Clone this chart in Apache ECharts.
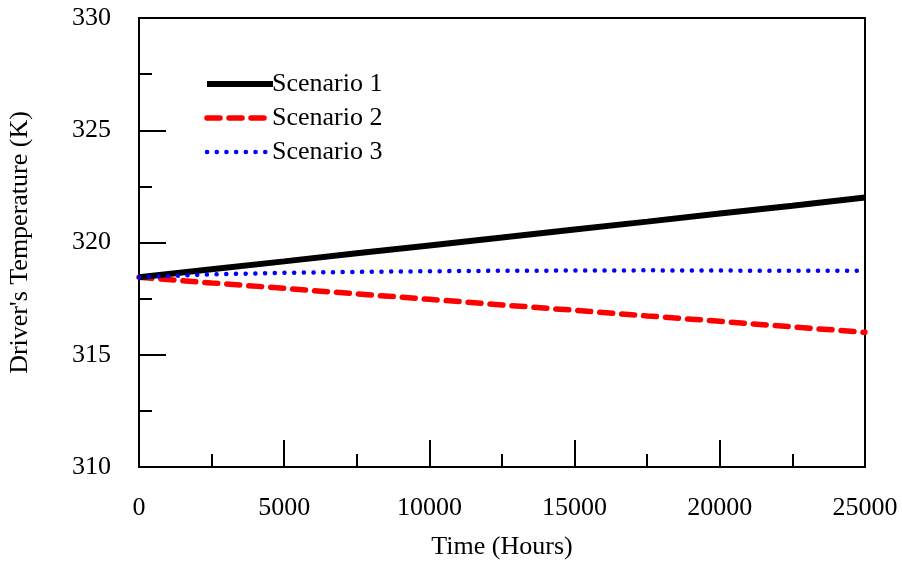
<!DOCTYPE html>
<html>
<head>
<meta charset="utf-8">
<script src="https://cdn.jsdelivr.net/npm/echarts@6/dist/echarts.min.js"></script>
<style>
html, body { margin: 0; padding: 0; background: #fff; }
#chart { width: 902px; height: 563px; }
</style>
</head>
<body>
<div id="chart"></div>
<script>
// time in hours
var hours = [0, 2500, 5000, 7500, 10000, 12500, 15000, 17500, 20000, 22500, 25000];
var scenario1 = [318.45, 318.81, 319.16, 319.52, 319.87, 320.22, 320.58, 320.93, 321.29, 321.64, 322.0];
var scenario2 = [318.45, 318.2, 317.96, 317.71, 317.47, 317.22, 316.98, 316.73, 316.49, 316.24, 316.0];
var scenario3 = [318.45, 318.58, 318.65, 318.69, 318.72, 318.74, 318.75, 318.76, 318.75, 318.74, 318.74];
var names = ['Scenario 1', 'Scenario 2', 'Scenario 3'];

var font = 'Liberation Serif';
var fs = 26;

var styles = [
    { color: '#000', width: 6, type: 'solid' },
    { color: '#ff0000', width: 5.5, type: [13, 9], cap: 'round' },
    { color: '#0000ff', width: 4.5, type: [0.1, 9.6], cap: 'round' }
];

function pairs(vals) {
    var res = [];
    for (var i = 0; i < hours.length; i++) {
        res.push([hours[i], vals[i]]);
    }
    return res;
}

var myChart = echarts.init(document.getElementById('chart'));

var axisCommon = {
    nameLocation: 'middle',
    nameMoveOverlap: false,
    nameTextStyle: { fontFamily: font, fontSize: fs, color: '#000' },
    axisLine: { lineStyle: { color: '#000', width: 2 } },
    axisTick: { inside: true, length: 27, lineStyle: { color: '#000', width: 2 } },
    minorTick: { show: true, splitNumber: 2, length: 13, lineStyle: { color: '#000', width: 2 } },
    axisLabel: { fontFamily: font, fontSize: fs, color: '#000', margin: 28, formatter: function (v) { return String(v); } },
    splitLine: { show: false }
};

var option = {
    animation: false,
    textStyle: { fontFamily: font, color: '#000' },
    grid: {
        left: 139,
        right: 37,
        top: 18,
        bottom: 96,
        containLabel: false,
        outerBoundsMode: 'none',
        show: true,
        borderColor: '#000',
        borderWidth: 2
    },
    legend: {
        orient: 'vertical',
        left: 204,
        top: 71,
        padding: 0,
        itemWidth: 66,
        itemHeight: 20,
        itemGap: 8,
        itemStyle: { opacity: 0 },
        data: names.map(function (n, i) {
            return { name: n, lineStyle: styles[i], itemStyle: { opacity: 0 } };
        }),
        textStyle: { fontFamily: font, fontSize: fs, color: '#000', padding: [0, 0, 0, -6] }
    },
    xAxis: echarts.util.merge({
        type: 'value',
        min: 0,
        max: 25000,
        interval: 5000,
        name: 'Time (Hours)',
        nameGap: 67
    }, axisCommon),
    yAxis: echarts.util.merge({
        type: 'value',
        min: 310,
        max: 330,
        interval: 5,
        name: "Driver's Temperature (K)",
        nameGap: 106
    }, axisCommon),
    series: names.map(function (n, i) {
        return {
            name: n,
            type: 'line',
            data: pairs([scenario1, scenario2, scenario3][i]),
            symbol: 'none',
            z: [3, 2, 4][i],
            itemStyle: { color: styles[i].color },
            lineStyle: styles[i]
        };
    })
};

myChart.setOption(option);
</script>
</body>
</html>
